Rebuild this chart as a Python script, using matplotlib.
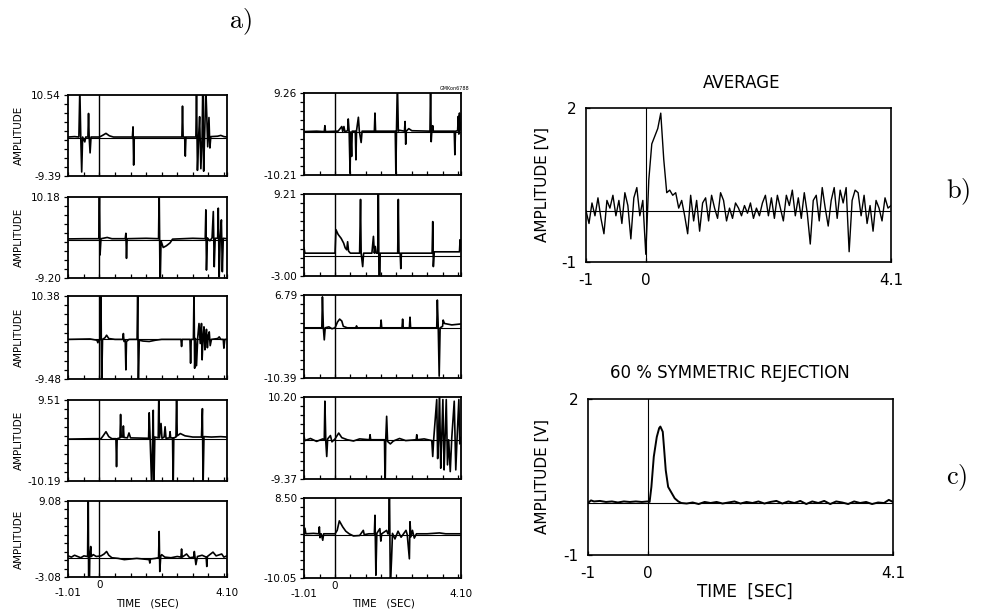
import numpy as np
import matplotlib
matplotlib.use("Agg")
import matplotlib.pyplot as plt

plt.rcParams['font.family'] = ['DejaVu Sans']
plt.rcParams['mathtext.fontset'] = 'cm'

W, H = 983, 612

# ---------------- data ----------------
time_range = (-1.01, 4.10)
time_ticks = [-1.01, 0.0, 4.10]
time_tick_labels = ["-1.01", "0", "4.10"]

amp_ranges_col1 = [(-9.39, 10.54), (-9.20, 10.18), (-9.48, 10.38), (-10.19, 9.51), (-3.08, 9.08)]
amp_ranges_col2 = [(-10.21, 9.26), (-3.00, 9.21), (-10.39, 6.79), (-9.37, 10.20), (-10.05, 8.50)]

# single trials (time [s], amplitude); +/-12 marks off-scale artefacts
trial_1 = [(-1.01, 0.2), (-0.8, 0.3), (-0.66, 0.2), (-0.63, 12), (-0.6, 0.2), (-0.57, -8.4), (-0.54, 0.2),
           (-0.47, -1.0), (-0.44, 0.2), (-0.37, 0.2), (-0.35, 6.0), (-0.33, 0.2), (-0.30, -3.7), (-0.27, 0.2),
           (0.0, 0.2), (0.1, 0.6), (0.21, 1.1), (0.32, 0.5), (0.45, 0.2), (1.06, 0.2), (1.08, 2.7), (1.10, -6.7),
           (1.12, 0.2), (2.65, 0.2), (2.67, 7.8), (2.69, 0.2), (2.74, 0.2), (2.76, -4.5), (2.78, 0.2), (3.10, 0.2),
           (3.12, 12), (3.15, -8.0), (3.19, 0.5), (3.22, 5.2), (3.26, -7.6), (3.30, 0.3), (3.32, 12), (3.35, -8.2),
           (3.38, 0.3), (3.42, 12), (3.45, 5.5), (3.48, -2.2), (3.52, 5.0), (3.55, -2.5), (3.58, 0.3), (3.8, 0.4),
           (3.9, 0.6), (4.0, 0.3), (4.10, 0.2)]
trial_2 = [(-1.01, 0.15), (-0.5, 0.2), (-0.02, 0.2), (0.0, 12), (0.02, -3.7), (0.05, 0.2), (0.25, 0.5), (0.4, 0.2),
           (0.83, 0.2), (0.85, 1.5), (0.87, -4.5), (0.89, 0.2), (1.5, 0.3), (1.9, 0.2), (1.92, 12), (1.95, -12),
           (1.98, -0.3), (2.05, -1.9), (2.15, -1.5), (2.27, -0.8), (2.35, 0.1), (3.0, 0.3), (3.4, 0.2), (3.42, 7.1),
           (3.44, -7.3), (3.47, 0.4), (3.55, -0.3), (3.62, 0.4), (3.66, 6.7), (3.69, -6.5), (3.72, 0.3), (3.80, 0.3),
           (3.82, 7.5), (3.85, -8.9), (3.88, 0.2), (3.92, 4.7), (3.95, -7.7), (3.98, 0.3), (4.10, 0.2)]
trial_3 = [(-1.01, 0.0), (-0.3, 0.1), (-0.08, -0.2), (-0.05, -0.8), (-0.02, -0.2), (0.03, 0.0), (0.05, 12),
           (0.07, -12), (0.1, 0.0), (0.18, 0.4), (0.23, 1.0), (0.3, 0.2), (0.5, 0.0), (0.75, 0.0), (0.77, 1.4),
           (0.79, -0.5), (0.83, -0.3), (0.85, -7.3), (0.87, -0.5), (0.95, 0.0), (1.21, 0.0), (1.23, 12), (1.25, -12),
           (1.28, -0.2), (1.4, -0.4), (1.6, -0.5), (1.8, -0.2), (2.0, 0.0), (2.62, 0.0), (2.64, -1.7), (2.66, 0.0),
           (2.91, 0.0), (2.93, -5.7), (2.95, 0.0), (3.02, 0.0), (3.04, 12), (3.06, -6.9), (3.09, 0.2), (3.12, -6.3),
           (3.16, 0.5), (3.20, 3.8), (3.24, -1.0), (3.28, 3.8), (3.30, -4.9), (3.33, 0.5), (3.36, 3.0), (3.39, -2.5),
           (3.42, 0.8), (3.44, 2.4), (3.47, -2.0), (3.50, 1.0), (3.53, 1.8), (3.56, -1.5), (3.6, 0.0), (3.8, 0.2),
           (3.85, 0.6), (3.9, 0.0), (3.98, 0.0), (4.0, -2.1), (4.03, 0.0), (4.10, 0.0)]
trial_4 = [(-1.01, 0.0), (-0.2, 0.1), (0.05, 0.1), (0.12, 0.8), (0.21, 1.8), (0.3, 0.6), (0.4, 0.1), (0.53, 0.1),
           (0.55, -6.7), (0.57, 0.1), (0.66, 0.3), (0.68, 6.0), (0.70, 0.5), (0.75, 0.5), (0.77, 3.2), (0.79, 0.4),
           (0.9, 0.3), (0.95, 1.5), (1.0, 0.3), (1.58, 0.2), (1.60, 6.4), (1.63, 0.0), (1.68, -12), (1.71, 0.5),
           (1.73, 7.0), (1.75, -12), (1.78, 0.5), (1.89, 0.3), (1.91, 12), (1.93, 0.3), (1.98, 3.8), (2.01, 0.2),
           (2.08, 0.5), (2.11, 3.0), (2.14, 0.2), (2.25, 0.3), (2.27, 1.8), (2.29, 0.3), (2.35, 0.3), (2.37, -12),
           (2.39, 0.3), (2.46, 0.5), (2.48, 12), (2.50, 0.8), (2.6, 1.35), (2.75, 0.8), (3.0, 0.5), (3.28, 0.5),
           (3.31, 7.4), (3.33, -12), (3.36, 0.6), (3.6, 0.5), (3.9, 0.6), (4.10, 0.5)]
trial_5 = [(-1.01, 0.3), (-0.9, 0.1), (-0.8, 0.4), (-0.7, 0.2), (-0.6, 0.0), (-0.5, 0.3), (-0.38, 0.2), (-0.36, 12),
           (-0.34, -12), (-0.31, 0.3), (-0.28, 1.8), (-0.26, 0.2), (-0.2, 0.5), (-0.1, 0.2), (0.05, 0.3), (0.15, 0.6),
           (0.23, 1.0), (0.3, 0.4), (0.4, 0.0), (0.6, -0.1), (0.8, -0.3), (1.0, -0.2), (1.2, -0.1), (1.4, -0.2),
           (1.60, -0.3), (1.62, -0.85), (1.64, -0.2), (1.80, -0.1), (1.90, 0.0), (1.92, 4.2), (1.94, -2.2),
           (1.97, 0.2), (2.0, 0.5), (2.1, 0.1), (2.3, 0.0), (2.5, 0.2), (2.62, 0.1), (2.64, 1.4), (2.66, 0.1),
           (2.8, 0.6), (2.9, 0.0), (3.03, 0.1), (3.05, 1.0), (3.1, -1.1), (3.15, 0.2), (3.3, 0.4), (3.43, 0.1),
           (3.45, -1.4), (3.47, 0.2), (3.65, 0.9), (3.75, 0.3), (3.93, 0.6), (4.0, 0.1), (4.10, 0.3)]
trial_6 = [(-1.01, 0.1), (-0.6, 0.2), (-0.35, 0.1), (-0.33, 1.5), (-0.31, 0.1), (0.1, 0.2), (0.22, 1.3), (0.25, 0.1),
           (0.29, 1.3), (0.32, 0.1), (0.41, 0.3), (0.43, 3.1), (0.46, 0.0), (0.49, -9.8), (0.51, 0.0), (0.54, -5.8),
           (0.56, 0.2), (0.66, 0.2), (0.68, -6.6), (0.70, 0.3), (0.76, 3.5), (0.79, 0.3), (0.85, -2.5), (0.88, 0.2),
           (1.28, 0.2), (1.30, 4.5), (1.32, 0.2), (1.96, 0.2), (1.98, -9.8), (2.00, 0.2), (2.03, 12), (2.06, 0.2),
           (2.1, 0.4), (2.26, 0.2), (2.28, 2.5), (2.30, -2.9), (2.32, 0.2), (2.4, 0.8), (2.5, 0.3), (3.09, 0.2),
           (3.11, 12), (3.13, -2.3), (3.15, 0.2), (3.18, 1.5), (3.20, 0.2), (3.88, 0.2), (3.90, -5.4), (3.92, 0.2),
           (3.99, 0.3), (4.01, 3.7), (4.03, -0.5), (4.05, 4.5), (4.08, 0.5), (4.10, 2.0)]
trial_7 = [(-1.01, 1.2), (-0.98, 0.4), (-0.5, 0.4), (0.0, 0.4), (0.03, 3.9), (0.1, 3.2), (0.2, 2.6), (0.28, 1.9),
           (0.33, 1.2), (0.38, 0.9), (0.41, 2.1), (0.44, 0.7), (0.5, 0.4), (0.8, 0.4), (0.83, 8.4), (0.85, 0.4),
           (0.90, -1.6), (0.93, 0.4), (1.2, 0.4), (1.25, 2.9), (1.28, 0.4), (1.31, 1.4), (1.34, 0.4), (1.39, 0.4),
           (1.41, 12), (1.44, -12), (1.47, 0.4), (2.04, 0.4), (2.06, 8.4), (2.08, 0.4), (2.12, 0.4), (2.14, -1.9),
           (2.16, 0.4), (3.16, 0.4), (3.18, 5.1), (3.20, -1.6), (3.23, 0.6), (3.5, 0.6), (3.9, 0.6), (4.05, 0.6),
           (4.07, 2.4), (4.10, 0.8)]
trial_8 = [(-1.01, 0.0), (-0.6, 0.0), (-0.43, 0.0), (-0.41, 6.4), (-0.38, 0.0), (-0.35, -2.5), (-0.32, 0.0),
           (-0.2, 0.2), (-0.1, -0.2), (0.0, 0.0), (0.08, 1.2), (0.15, 1.8), (0.22, 1.4), (0.27, 0.3), (0.4, 0.0),
           (0.68, 0.0), (0.70, 0.4), (0.72, 0.0), (1.48, 0.0), (1.50, 1.6), (1.52, 0.0), (2.18, 0.0), (2.20, 1.8),
           (2.22, 0.0), (2.42, 0.0), (2.44, 2.2), (2.46, 0.0), (3.31, 0.0), (3.33, 5.75), (3.36, 0.0), (3.39, -10.0),
           (3.42, 0.0), (3.50, 0.3), (3.52, 1.6), (3.56, 0.9), (3.8, 0.6), (4.10, 0.8)]
trial_9 = [(-1.01, 0.8), (-0.98, -0.2), (-0.8, 0.3), (-0.6, -0.4), (-0.4, 0.2), (-0.35, 0.0), (-0.33, 9.2),
           (-0.30, -0.5), (-0.27, -4.0), (-0.24, 0.2), (-0.15, 1.0), (-0.1, -0.5), (0.0, 0.2), (0.12, 1.6),
           (0.22, 0.5), (0.4, 0.0), (0.6, -0.3), (0.8, 0.2), (1.12, 0.0), (1.14, 1.2), (1.16, 0.0), (1.61, 0.0),
           (1.63, -12), (1.65, 0.0), (1.68, 5.6), (1.71, -0.4), (1.8, -1.0), (1.9, -0.3), (2.1, 0.3), (2.3, -0.2),
           (2.64, 0.0), (2.66, 1.2), (2.68, 0.0), (2.9, 0.2), (3.15, -0.2), (3.18, -4.0), (3.21, 0.0), (3.31, 9.6),
           (3.34, -4.5), (3.37, 0.0), (3.40, 12), (3.44, -6.8), (3.47, 0.0), (3.51, 9.6), (3.55, -7.2), (3.58, 0.0),
           (3.62, 9.6), (3.66, -6.0), (3.70, 0.0), (3.75, -7.6), (3.80, 0.5), (3.88, 9.2), (3.93, -7.2), (3.97, 0.0),
           (4.03, 9.6), (4.06, -1.0), (4.10, 0.5)]
trial_10 = [(-1.01, 0.2), (-0.98, 1.5), (-0.95, 0.2), (-0.7, 0.3), (-0.53, 0.2), (-0.51, 1.8), (-0.49, -0.7),
            (-0.45, 0.2), (-0.40, -1.3), (-0.37, 0.2), (0.0, 0.2), (0.07, 1.0), (0.14, 3.2), (0.25, 1.8),
            (0.35, 0.8), (0.46, 0.2), (0.6, -0.3), (0.8, -0.2), (0.92, 1.0), (0.95, 0.0), (1.1, 0.2), (1.28, 0.2),
            (1.30, 4.5), (1.33, -9.4), (1.36, 0.3), (1.46, 1.4), (1.49, -1.5), (1.52, 0.2), (1.68, 1.0), (1.72, 0.2),
            (1.75, 0.2), (1.77, 12), (1.80, -12), (1.84, -5.6), (1.87, 0.3), (1.95, -1.0), (2.05, 0.8), (2.15, -0.6),
            (2.31, 1.0), (2.35, 0.0), (2.42, -5.6), (2.44, 3.0), (2.47, -0.5), (2.52, 1.0), (2.58, -0.8), (2.65, 0.2),
            (3.0, 0.2), (3.4, 0.4), (3.6, 0.2), (4.10, 0.2)]

trials_col1 = [trial_1, trial_2, trial_3, trial_4, trial_5]
trials_col2 = [trial_6, trial_7, trial_8, trial_9, trial_10]

# averaged response (b), sampled every 0.05 s from -1.0 to 4.1
avg_time = np.round(np.arange(-1.0, 4.1001, 0.05), 2)
avg_values = [
    0.0, -0.25, 0.15, -0.1, 0.25, -0.15, -0.45, 0.2, 0.05, 0.3,
    -0.1, 0.2, -0.25, 0.35, 0.1, -0.55, 0.25, 0.45, -0.1, 0.2,
    -0.85, 0.6, 1.3, 1.45, 1.6, 1.9, 1.0, 0.35, 0.4, 0.3,
    0.35, 0.05, 0.2, -0.1, -0.45, 0.3, -0.2, 0.2, -0.4, 0.15,
    0.25, -0.2, 0.3, 0.05, -0.15, 0.35, 0.2, -0.2, 0.05, -0.15,
    0.15, 0.05, -0.1, 0.1, -0.05, 0.15, -0.15, 0.05, -0.1, 0.15,
    0.3, -0.1, 0.25, -0.15, 0.3, 0.05, -0.2, 0.3, 0.1, 0.4,
    -0.1, 0.25, -0.15, 0.35, -0.05, -0.65, 0.2, 0.3, -0.2, 0.45,
    0.05, -0.3, 0.2, 0.45, -0.15, 0.4, 0.15, 0.45, -0.8, 0.2,
    0.4, 0.35, -0.1, 0.3, -0.25, 0.1, -0.4, 0.2, 0.05, -0.2,
    0.25, 0.05, 0.1]

# 60 % symmetric rejection (c)
rej_time = [-1.0, -0.95, -0.9, -0.8, -0.7, -0.6, -0.5, -0.4, -0.3, -0.2, -0.1, 0.0,
            0.03, 0.06, 0.10, 0.15, 0.19, 0.21, 0.25, 0.27, 0.30, 0.34, 0.40, 0.45, 0.51, 0.56,
            0.65, 0.75, 0.85, 0.95, 1.05, 1.15, 1.25, 1.35, 1.45, 1.55, 1.65, 1.75, 1.85, 1.95,
            2.05, 2.15, 2.25, 2.35, 2.45, 2.55, 2.65, 2.75, 2.85, 2.95, 3.05, 3.15, 3.25, 3.35,
            3.45, 3.55, 3.65, 3.75, 3.85, 3.95, 4.03, 4.10]
rej_values = [0.0, 0.05, 0.03, 0.04, 0.02, 0.03, 0.01, 0.03, 0.02, 0.03, 0.02, 0.03,
              0.02, 0.31, 0.89, 1.27, 1.44, 1.47, 1.37, 1.08, 0.63, 0.31, 0.19, 0.09, 0.03, 0.0,
              -0.01, 0.01, -0.02, 0.02, 0.0, 0.02, -0.01, 0.01, 0.03, -0.01, 0.02, 0.0, 0.03, -0.01,
              0.02, 0.04, -0.01, 0.03, 0.0, 0.04, -0.02, 0.03, 0.0, 0.04, -0.02, 0.03, 0.01, -0.02,
              0.03, 0.0, 0.02, -0.02, 0.01, 0.0, 0.06, 0.02]
right_yrange = (-1, 2)
right_xrange = (-1, 4.1)

# ---------------- layout (pixel boxes: left, top, right, bottom) ----------------
col1_boxes = [(68, 95, 227, 176), (68, 197, 227, 278), (68, 296, 227, 379), (68, 400, 227, 481), (68, 501, 227, 577)]
col2_boxes = [(304, 93, 461, 175), (304, 194, 461, 276), (304, 295, 461, 378), (304, 397, 461, 479), (304, 498, 461, 578)]
box_b = (586, 108, 891, 262)
box_c = (588, 399, 893, 555)


def rect(b):
    l, t, r, bt = b
    return [l / W, 1 - bt / H, (r - l) / W, (bt - t) / H]


def fx(x):
    return x / W


def fy(y):
    return 1 - y / H


fig = plt.figure(figsize=(W / 100, H / 100), dpi=100)
fig.patch.set_facecolor('white')


def style_spines(ax, lw=1.3):
    for s in ax.spines.values():
        s.set_linewidth(lw)
        s.set_color('black')


def draw_trial(box, trace, yr, bottom, ylabel):
    ax = fig.add_axes(rect(box))
    t, v = zip(*trace)
    ax.plot(t, v, color='black', lw=1.2)
    ax.axhline(0, color='black', lw=0.8)
    ax.axvline(0, color='black', lw=1.0)
    ax.set_xlim(*time_range)
    ax.set_ylim(*yr)
    ax.set_yticks([yr[0], yr[1]])
    ax.set_yticklabels([f"{yr[0]:.2f}", f"{yr[1]:.2f}"])
    ax.set_yticks(np.linspace(yr[0], yr[1], 10)[1:-1], minor=True)
    ax.set_xticks(time_ticks)
    ax.set_xticks(np.arange(-0.5, 4.01, 0.5), minor=True)
    if bottom:
        ax.set_xticklabels(time_tick_labels)
    else:
        ax.set_xticklabels([])
    ax.tick_params(axis='y', which='both', direction='out', length=3, width=0.9, labelsize=7.5, pad=2)
    ax.tick_params(axis='x', which='both', direction='in', length=3, width=0.9, labelsize=7.5, pad=8)
    if bottom:
        ax.xaxis.get_major_ticks()[1].set_pad(2)
    if ylabel:
        ax.set_ylabel("AMPLITUDE", fontsize=7.5)
        ax.yaxis.set_label_coords(-(68 - 24) / 159, 0.5)
    style_spines(ax)
    return ax


for i, (box, tr, yr) in enumerate(zip(col1_boxes, trials_col1, amp_ranges_col1)):
    draw_trial(box, tr, yr, i == 4, True)
for i, (box, tr, yr) in enumerate(zip(col2_boxes, trials_col2, amp_ranges_col2)):
    draw_trial(box, tr, yr, i == 4, False)

fig.text(fx(148), fy(603), "TIME   (SEC)", fontsize=7.5, ha='center', va='center')
fig.text(fx(383), fy(603), "TIME   (SEC)", fontsize=7.5, ha='center', va='center')
fig.text(fx(455), fy(88), "GMKon6788", fontsize=3.5, ha='center', va='center')


def draw_right(box, t, v, title, title_xy, xlabel, lw):
    ax = fig.add_axes(rect(box))
    ax.plot(t, v, color='black', lw=lw)
    ax.axhline(0, color='black', lw=0.8)
    ax.axvline(0, color='black', lw=0.8)
    ax.set_xlim(*right_xrange)
    ax.set_ylim(*right_yrange)
    ax.set_xticks([-1, 0, 4.1])
    ax.set_xticklabels(["-1", "0", "4.1"])
    ax.set_yticks([-1, 2])
    ax.set_yticklabels(["-1", "2"])
    ax.tick_params(axis='both', which='both', direction='in', length=3, width=0.9, labelsize=11)
    ax.tick_params(axis='x', pad=8)
    ax.tick_params(axis='y', pad=7)
    ax.set_ylabel("AMPLITUDE [V]", fontsize=11)
    ax.yaxis.set_label_coords(-(box[0] - 550) / (box[2] - box[0]), 0.5)
    style_spines(ax, 1.2)
    fig.text(fx(title_xy[0]), fy(title_xy[1]), title, fontsize=12, ha='center', va='center')
    if xlabel:
        fig.text(fx(745), fy(592), "TIME  [SEC]", fontsize=12, ha='center', va='center')
    return ax


draw_right(box_b, avg_time, avg_values, "AVERAGE", (742, 83), False, 1.0)
draw_right(box_c, rej_time, rej_values, "60 % SYMMETRIC REJECTION", (730, 373), True, 1.4)

fig.text(fx(240), fy(22), r"$\mathrm{a)}$", fontsize=19, ha='center', va='center')
fig.text(fx(958), fy(192), r"$\mathrm{b)}$", fontsize=19, ha='center', va='center')
fig.text(fx(957), fy(478), r"$\mathrm{c)}$", fontsize=19, ha='center', va='center')

fig.savefig("out.png", dpi=100, facecolor='white')
